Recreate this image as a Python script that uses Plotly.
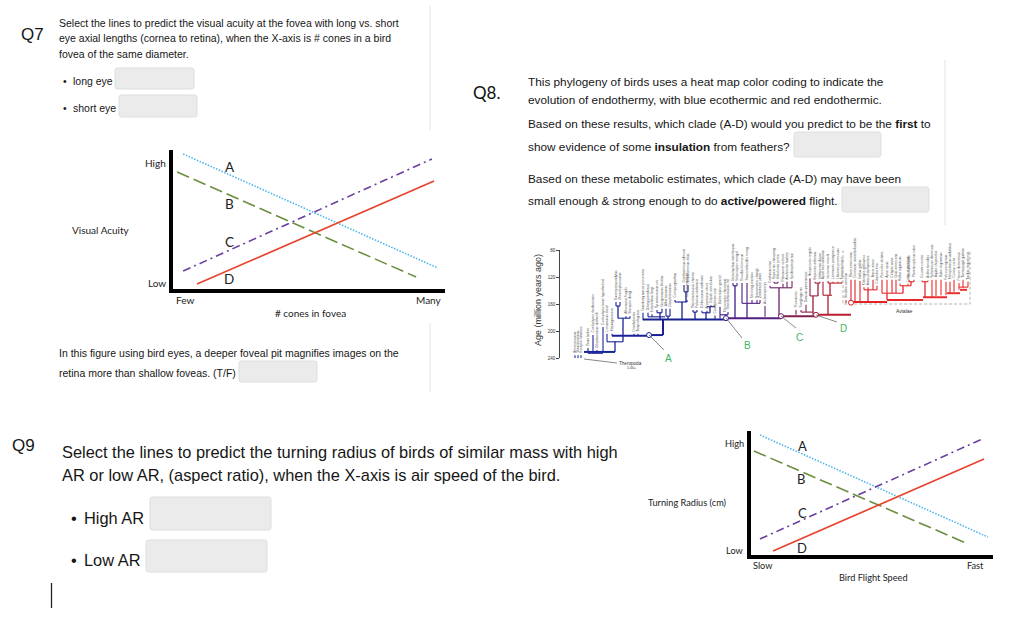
import plotly.graph_objects as go

# ---- line charts (relative units 0-100 on both axes) ----
line_names = ["A", "B", "C", "D"]
acuity_x = [[3.9, 97.4], [1.7, 89.4], [3.9, 95.2], [9.0, 96.0]]
acuity_y = [[97.1, 14.8], [84.1, 8.3], [12.6, 93.5], [3.2, 77.6]]
radius_x = [[3.9, 97.9], [1.4, 89.7], [3.9, 95.5], [9.3, 96.3]]
radius_y = [[96.8, 14.5], [83.9, 8.9], [12.9, 93.5], [3.2, 77.4]]

# ---- phylogeny: taxon, tree position, tip age, base age ----
leaf_names = ["Herrerasaurus","Staurikosaurus","Eoraptor lunensis","Tawa hallae","Coelophysis rhodesiensis","Dilophosaurus wetherilli","Coelophysis bauri hypothetical","Limusaurus inextr","Majungasaurus","Eustreptospondylus","Monolophosaurus","Allosaurus fragilis","Sinraptor dongi","Ornitholestes","Tanycolagreus","Guanlong wucaii proceratos","Dilong paradoxus","Eotyrannus lengi","Tyrannosaurus rex","Gorgosaurus libratus","Albertosaurus","Daspletosaurus","Compsognathus","Sinosauropteryx","Ornithomimus edmont","Struthiomimus altus","Therizinosaurus cheloni","Falcarius utahensis","Erlikosaurus andrewsi","Alxasaurus elesit","Citipati osmolskae","Caudipteryx zoui","Buitreraptor gonzal","Microraptor zhaoianus","Sinornithosaurus mil","Deinonychus antirrhopus","Velociraptor mongol","Troodon formosus","Saurornithoides mong","Mei long sinensis","Sinovenator changii","Zanabazar junior","Archaeopteryx","Confuciusornis","Sapeornis chaoyang","Jeholornis prima","Rahonavis ostromi","Anchiornis huxleyi","Epidexipteryx hui","Yixianornis","Songlingornis","Gansus yumenensis","Hesperornis regalis","Baptornis advenus","Ichthyornis dispar","Apsaravis ukhaana","Iaceornis marshi","Limenavis patagonica","Lithornis promiscuus","Tinamus major","Struthio camelus","Rhea americana","Dromaius novaehollandiae","Gallus gallus","Meleagris gallopavo","Anas platyrhynchos","Anser anser","Columba livia","Pterocles alchata","Apus apus","Calypte anna","Grus americana","Rallus aquaticus","Larus argentatus","Sterna hirundo","Phoenicopterus ruber","Ciconia ciconia","Ardea herodias","Spheniscus demersus","Aquila chrysaetos","Bubo virginianus","Falco peregrinus","Melopsittacus undulatus","Corvus corax","Passer domesticus","Taeniopygia guttata","Turdus migratorius"]
leaf_x = [15,18,21,28,33,37,43,47,52,56,60,66,70,74,78,83,88,92,97,102,106,110,115,127,124,128,133,137,142,147,151,155,160,165,168,173,177,182,187,192,197,200,205,210,214,218,223,227,232,236,241,246,250,255,260,263,268,273,278,282,286,291,295,300,304,308,313,317,322,327,332,336,340,348,349,354,362,368,372,376,381,386,390,394,399,403,408]
leaf_tip = [236,236,236,225,206,228,194,204,204,157,157,178,178,204,204,173,173,175,169,167,167,167,154,154,132,132,169,169,170,170,162,177,164,175,172,129,129,129,129,154,154,154,163,133,127,127,130,127,126,169,169,161,122,127,127,127,126,127,127,127,154,124,124,126,135,135,124,133,124,124,124,124,130,130,124,124,125,125,124,124,124,127,127,124,129,124,127]
leaf_base = [240,240,240,233,233,233,231,216,207,163,163,181,181,207,207,184,179,179,173,173,178,178,157,157,142,142,172,172,173,173,164,182,182,176,176,133,133,159,159,159,159,159,179,136,129,129,136,136,136,176,172,172,148,129,129,147,129,129,129,129,159,157,157,157,139,139,139,139,144,144,144,144,133,133,127,127,127,127,150,148,147,147,144,142,139,136,135]
# cross links: start, end, age
link_x0 = [15,28,47,56,58,88,97,106,115,124,133,142,147,160,173,182,210,214,241,250,255,263,268,304,322,340,349,362,399]
link_x1 = [24,43,63,60,70,105,102,110,127,128,137,150,155,168,177,200,232,218,253,258,260,272,282,317,343,351,354,368,408]
link_age = [241,233,216,163,181,179,173,178,157,142,172,173,164,176,133,159,136,129,172,148,129,147,129,139,144,133,127,127,135]
# stems: position, upper age, lower age
stem_x = [55,63,58,100,108,122,126,135,146,150,166,175,187,219,253,268,270,258,308,327,343,351,365]
stem_top = [216,181,163,173,178,157,142,172,173,164,176,133,159,136,148,147,129,129,139,144,133,127,127]
stem_low = [231,216,181,183,183,183,157,183,183,173,181,181,181,178,176,176,147,148,157,154,144,133,151]
# backbone of the tree: start, end, age
spine_x0 = [24,52,83,89,103,166,221,256,291,327,363,387,400]
spine_x1 = [55,89,166,103,103,221,256,291,327,363,387,400,407]
spine_age0 = [231,207,183,206,183,181,178,176,157,154,150,144,139]
spine_age1 = [231,207,183,206,206,181,178,176,157,154,150,144,139]
node_x = [24,89,166,221,256,291]
node_age = [241,206,181,178,176,158]
age_ticks = [80,120,160,200,240]
avialae_x = [283,410,410,283,283]
avialae_age = [56,56,160,160,56]

W, H = 1024, 626
def fx(x): return x / W
def fy(y): return 1 - y / H

HELV = "Liberation Sans"
CAL = "Lato"
ann = []
def txt(s, x, y, size, font=HELV, color="#161616", anchor="left", angle=0):
    ann.append(dict(text=s, x=fx(x), y=fy(y), xref="paper", yref="paper", showarrow=False,
                    xanchor=anchor, yanchor="middle", textangle=angle, borderpad=0,
                    font=dict(size=size, family=font, color=color)))

shapes = []
def box(x0, y0, x1, y1):
    r = 2.5
    pts = (f"M {fx(x0+r)} {fy(y0)} L {fx(x1-r)} {fy(y0)} Q {fx(x1)} {fy(y0)} {fx(x1)} {fy(y0+r)} "
           f"L {fx(x1)} {fy(y1-r)} Q {fx(x1)} {fy(y1)} {fx(x1-r)} {fy(y1)} "
           f"L {fx(x0+r)} {fy(y1)} Q {fx(x0)} {fy(y1)} {fx(x0)} {fy(y1-r)} "
           f"L {fx(x0)} {fy(y0+r)} Q {fx(x0)} {fy(y0)} {fx(x0+r)} {fy(y0)} Z")
    shapes.append(dict(type="path", path=pts, xref="paper", yref="paper",
                       fillcolor="#ebebeb", line=dict(color="#dedede", width=1), layer="below"))
def seg(x0, y0, x1, y1, color, width=1):
    shapes.append(dict(type="line", xref="paper", yref="paper", x0=fx(x0), x1=fx(x1), y0=fy(y0), y1=fy(y1),
                       line=dict(color=color, width=width)))

# Q7
txt("Q7", 19.5, 34, 17)
for s, y in [("Select the lines to predict the visual acuity at the fovea with long vs. short", 23),
             ("eye axial lengths (cornea to retina), when the X-axis is # cones in a bird", 38),
             ("fovea of the same diameter.", 54)]:
    txt(s, 58, y, 10.5)
txt("•", 62, 81, 10.5); txt("long eye", 72, 81, 10.5); box(115, 68, 194, 89)
txt("•", 62, 108, 10.5); txt("short eye", 72, 108, 10.5); box(119, 95, 197, 117)
seg(430, 6, 430, 130, "#ececec", 1.5)
seg(430, 323, 430, 392, "#ececec", 1.5)
seg(945, 60, 945, 225, "#ececec", 1.5)
txt("In this figure using bird eyes, a deeper foveal pit magnifies images on the", 58, 353, 10.5)
txt("retina more than shallow foveas. (T/F)", 58, 373, 10.5)
box(239, 361, 317, 382)
# Q8
txt("Q8.", 472, 93, 17, CAL, "#111")
for s, y in [("This phylogeny of birds uses a heat map color coding to indicate the", 82),
             ("evolution of endothermy, with blue ecothermic and red endothermic.", 100),
             ("Based on these results, which clade (A-D) would you predict to be the <b>first</b> to", 124),
             ("show evidence of some <b>insulation</b> from feathers?", 147),
             ("Based on these metabolic estimates, which clade (A-D) may have been", 179),
             ("small enough &amp; strong enough to do <b>active/powered</b> flight.", 201)]:
    txt(s, 527, y, 11.8)
box(794, 132, 881, 157)
box(842, 187, 929, 212)
# Q9
txt("Q9", 10.5, 445, 17)
txt("Select the lines to predict the turning radius of birds of similar mass with high", 61, 452, 16.4)
txt("AR or low AR, (aspect ratio), when the X-axis is air speed of the bird.", 61, 475, 16.4)
txt("•", 70, 518, 16.4); txt("High AR", 83, 518, 16.4); box(150, 497, 271, 530)
txt("•", 70, 560, 16.4); txt("Low AR", 83, 560, 16.4); box(146, 540, 267, 572)
seg(51.5, 583, 51.5, 608, "#222", 1.3)
# chart labels
c = "#222"
txt("High", 167, 163, 10, CAL, c, "right"); txt("Low", 167, 283, 10, CAL, c, "right")
txt("Few", 175, 300, 10, CAL, c); txt("Many", 443, 300, 10, CAL, c, "right")
txt("# cones in fovea", 310, 313, 10, CAL, c, "center"); txt("Visual Acuity", 101, 230, 10, CAL, c, "center")
for s, x, y in zip(line_names, [230, 229, 229, 229], [167, 204, 242, 279]):
    txt(s, x, y, 13.5, CAL, c, "center")
txt("High", 745, 443, 9.2, CAL, c, "right"); txt("Low", 745, 550, 9.2, CAL, c, "right")
txt("Slow", 752, 565, 9.2, CAL, c); txt("Fast", 985, 565, 9.2, CAL, c, "right")
txt("Bird Flight Speed", 873, 577, 9.2, CAL, c, "center"); txt("Turning Radius (cm)", 687, 502, 9.2, CAL, c, "center")
for s, x, y in zip(line_names, [802, 801, 802, 802], [446, 479, 513, 548]):
    txt(s, x, y, 13, CAL, c, "center")
# tree labels
txt("Age (million years ago)", 538, 300, 9, HELV, "#333", "center", -90)
txt("Theropoda", 630, 363, 4.6, HELV, "#333", "center"); txt("1.00+", 631, 368, 3.6, HELV, "#333", "center")
txt("Avialae", 904, 311, 5, HELV, "#333", "center")
GREEN = "#3cb860"
for s, x, y in [("A", 668, 358), ("B", 747, 345), ("C", 799, 337), ("D", 843, 328)]:
    txt(s, x, y, 10, HELV, GREEN, "center")
for x0, y0, x1, y1 in [(649, 335, 664, 350), (726, 318, 742, 338), (781, 316, 796, 328), (816, 315, 837, 322), (584, 359, 617, 363)]:
    seg(x0, y0, x1, y1, "#555", 0.7)

def heat(x):
    stops = [(0, (26, 38, 156)), (130, (24, 32, 146)), (165, (50, 30, 135)), (205, (95, 35, 125)),
             (235, (125, 30, 80)), (265, (170, 30, 50)), (295, (225, 35, 40)), (415, (235, 50, 45))]
    for (a, ca), (b, cb) in zip(stops, stops[1:]):
        if x <= b:
            t = (x - a) / (b - a)
            return "rgb(%d,%d,%d)" % tuple(ca[i] + (cb[i] - ca[i]) * t for i in range(3))
    return "rgb(235,50,45)"

fig = go.Figure()
styles = [dict(color="#4db5ee", width=1.6, dash="1.5px,1.5px"),
          dict(color="#6b8e3f", width=1.6, dash="13px,5px"),
          dict(color="#6a3fa0", width=1.6, dash="8px,4px,2px,4px"),
          dict(color="#e8432e", width=1.7)]
for n, xs, ys, st in zip(line_names, acuity_x, acuity_y, styles):
    fig.add_trace(go.Scatter(x=xs, y=ys, mode="lines", name=n, line=st, xaxis="x", yaxis="y"))
for n, xs, ys, st in zip(line_names, radius_x, radius_y, styles):
    fig.add_trace(go.Scatter(x=xs, y=ys, mode="lines", name=n, line=st, xaxis="x2", yaxis="y2"))

def branch(xs, ys, w):
    fig.add_trace(go.Scatter(x=xs, y=ys, mode="lines", xaxis="x3", yaxis="y3", cliponaxis=False,
                             line=dict(color=heat(sum(xs) / 2), width=w)))
for x, t, b in zip(leaf_x, leaf_tip, leaf_base):
    branch([x, x], [t, b], 1.1)
for a, b, g in zip(link_x0, link_x1, link_age):
    branch([a, b], [g, g], 1.1)
for x, t, b in zip(stem_x, stem_top, stem_low):
    branch([x, x], [t, b], 1.3)
for a, b, g0, g1 in zip(spine_x0, spine_x1, spine_age0, spine_age1):
    branch([a, b], [g0, g1], 2.0)
fig.add_trace(go.Scatter(x=avialae_x, y=avialae_age, mode="lines", xaxis="x3", yaxis="y3", cliponaxis=False,
                         line=dict(color="#aaaaaa", width=0.9, dash="3px,2px")))
fig.add_trace(go.Scatter(x=node_x, y=node_age, mode="markers", xaxis="x3", yaxis="y3", cliponaxis=False,
                         marker=dict(size=5, color="white", line=dict(color=[heat(v) for v in node_x], width=1))))
for n, x, t in zip(leaf_names, leaf_x, leaf_tip):
    ann.append(dict(text=n, x=x, y=t, xref="x3", yref="y3", showarrow=False, textangle=-90, borderpad=0,
                    xanchor="center", yanchor="bottom", yshift=1, font=dict(size=3.4, family=HELV, color="#555")))

def hidden_x(d, anchor):
    return dict(domain=d, range=[0, 100], anchor=anchor, showline=True, linecolor="#000", linewidth=3.5,
                showticklabels=False, ticks="", showgrid=False, zeroline=False)
def hidden_y(d, anchor):
    return dict(domain=d, range=[0, 100], anchor=anchor, showline=True, linecolor="#000", linewidth=3.5,
                showticklabels=False, ticks="", showgrid=False, zeroline=False)

fig.update_layout(
    width=W, height=H, margin=dict(l=0, r=0, t=0, b=0, autoexpand=False), showlegend=False,
    paper_bgcolor="white", plot_bgcolor="rgba(0,0,0,0)",
    xaxis=hidden_x([fx(172.5), fx(445)], "y"), yaxis=hidden_y([fy(288.5), fy(150)], "x"),
    xaxis2=hidden_x([fx(750.5), fx(993)], "y2"), yaxis2=hidden_y([fy(555), fy(431)], "x2"),
    xaxis3=dict(domain=[fx(560), fx(975)], range=[0, 415], anchor="y3", visible=False),
    yaxis3=dict(domain=[fy(358), fy(250)], range=[240, 80], anchor="x3", tickvals=age_ticks,
                showline=True, linecolor="#444", linewidth=0.8, ticks="outside", ticklen=3, tickwidth=0.8,
                tickcolor="#444", showgrid=False, zeroline=False, tickfont=dict(size=4.5, family=HELV, color="#333")),
    annotations=ann, shapes=shapes)
fig.write_html("out.html", config={"displayModeBar": False}, post_script="document.body.style.margin='0';")
